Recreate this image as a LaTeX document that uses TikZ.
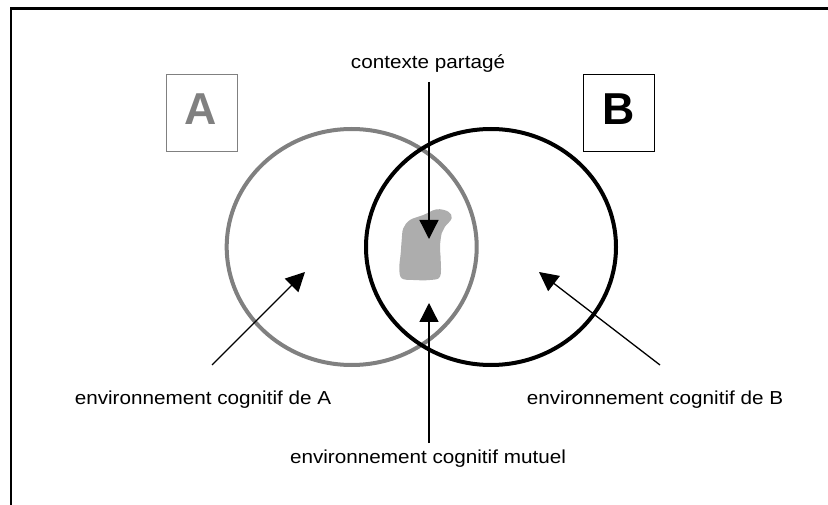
\documentclass[tikz,border=0pt]{standalone}
\usepackage{fontspec}
\setmainfont{Liberation Sans}
\newfontfamily\widesans[FakeStretch=1.1]{Liberation Sans}
\usetikzlibrary{arrows.meta}
\definecolor{cgray}{gray}{0.5}
\definecolor{blobgray}{gray}{0.68}
\tikzset{
  lbl/.style={font=\widesans\fontsize{18.8}{22}\selectfont, inner sep=0pt, anchor=base},
  letter/.style={font=\fontsize{44.7}{50}\selectfont\bfseries, inner sep=0pt, anchor=base},
  agentbox/.style={minimum width=71pt, minimum height=77pt, inner sep=0pt, line width=1.3pt},
  arr/.style={line width=1.3pt, -{Triangle[length=19pt,width=19pt]}},
  ring/.style={line width=4pt}
}
\begin{document}
\begin{tikzpicture}[x=1pt,y=-1pt]
\useasboundingbox (0,0) rectangle (828,505);
% frame
\draw[line width=2.5pt] (11,505) -- (11,8.5) -- (828,8.5);
% shared context blob
\fill[blobgray] plot[smooth cycle, tension=0.6] coordinates {
 (403.3,228.3) (410,220) (423.3,215) (436.7,209.3) (448.3,211.7) (451.7,218.3)
 (445,226.7) (441.7,233.3) (440,246.7) (440.7,260) (440,276.7) (430,280)
 (413.3,280) (401.7,278.3) (399.3,268.3) (400.7,253.3) (401.7,240)};
% cognitive environments
\draw[ring, cgray] (351.7,247) ellipse [x radius=125pt, y radius=118pt];
\draw[ring, black] (491,247) ellipse [x radius=125pt, y radius=118pt];
% agent boxes
\node[agentbox, draw=cgray] (boxA) at (202.3,113.3) {};
\node[agentbox, draw=black] (boxB) at (619,113.3) {};
\node[letter, text=cgray] (letA) at (201,125) {A};
\node[letter, text=black] (letB) at (619,125) {B};
% labels
\node[lbl] (ctx) at (428,69) {contexte partagé};
\node[lbl] (envA) at (203,404) {environnement cognitif de A};
\node[lbl] (envB) at (655,404) {environnement cognitif de B};
\node[lbl] (mut) at (428,463) {environnement cognitif mutuel};
% arrow ends
\coordinate (ctxS) at (429,82);
\coordinate (ctxT) at (429,239);
\coordinate (mutS) at (429,443);
\coordinate (mutT) at (429,303);
\coordinate (aS) at (212,365);
\coordinate (aT) at (305,272);
\coordinate (bS) at (660,365);
\coordinate (bT) at (539,272);
\draw[arr] (ctxS) -- (ctxT);
\draw[arr] (mutS) -- (mutT);
\draw[arr] (aS) -- (aT);
\draw[arr] (bS) -- (bT);
\end{tikzpicture}
\end{document}
